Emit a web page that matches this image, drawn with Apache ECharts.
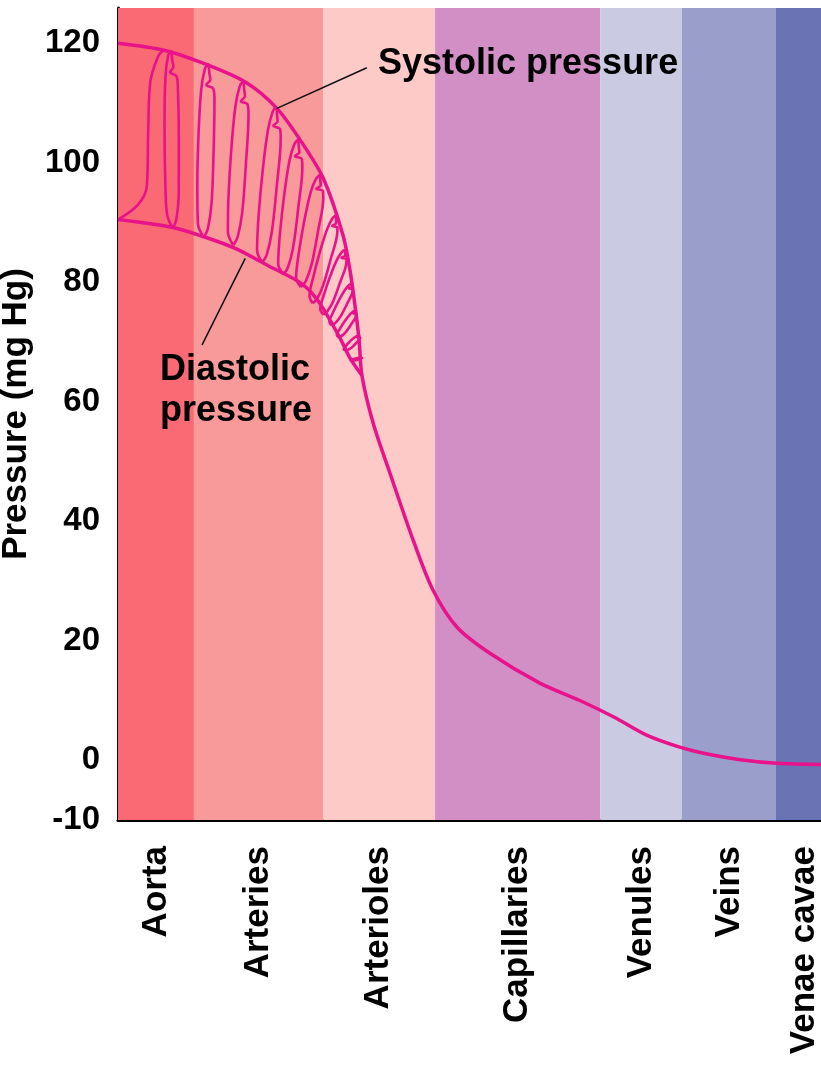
<!DOCTYPE html>
<html>
<head>
<meta charset="utf-8">
<script src="https://cdn.jsdelivr.net/npm/echarts@6/dist/echarts.min.js"></script>
<style>
  html, body { margin: 0; padding: 0; background: #fff; }
  #chart { width: 821px; height: 1067px; }
</style>
</head>
<body>
<div id="chart"></div>
<script>
// segments of the circulation (x = relative distance along the vessel tree, 0..100)
const bandNames = ['Aorta', 'Arteries', 'Arterioles', 'Capillaries', 'Venules', 'Veins', 'Venae cavae'];
const bandEdges = [0, 10.8, 29.2, 45.1, 68.6, 80.2, 93.6, 100];
const bandColors = ['#f96a74', '#f99a9a', '#fdcac7', '#d28fc5', '#cacbe3', '#9a9ecb', '#6a73b3'];
const labelPos = [5.4, 20, 37.1, 56.8, 74.4, 86.9, 97.7];
const yTicks = [-10, 0, 20, 40, 60, 80, 100, 120];

// pressure curves (mm Hg)
const systolic = [[0, 120], [6.7, 118.8], [12.0, 116.7], [18.1, 113.5], [22.6, 109.1], [26.2, 103.3],
    [29.2, 97.4], [32.0, 87.9], [33.0, 82.0], [33.7, 76.2], [34.3, 70.3], [34.7, 64.4]];
const diastolic = [[0, 90.5], [7.7, 89.2], [12.0, 87.7], [16.6, 85.7], [21.3, 82.8], [26.2, 79.7],
    [28.7, 76.5], [31.6, 70.6], [33.0, 67.3], [34.7, 64.4]];
const meanTail = [[34.7, 64.4], [36.3, 56.4], [38.7, 48.0], [42.0, 36.8], [44.8, 28.5], [48.2, 22.3],
    [52.9, 17.9], [60.0, 12.9], [65.7, 10.0], [70.6, 7.2], [75.2, 4.2], [79.9, 2.2],
    [84.0, 1.0], [88.5, 0.1], [93.7, -0.5], [100, -0.7]];
const firstRise = [[0, 90.5], [2.85, 93.0], [4.1, 96.1], [4.3, 105.3], [4.6, 113.6], [5.7, 117.8], [6.4, 118.8]];

// individual pulse waves: bottom point, top point, half width
const troughU = [7.8, 12.2, 16.4, 20.5, 23.5, 26.0, 27.7, 29.2, 30.4, 31.4, 32.4, 33.3];
const troughV = [89.0, 87.5, 86.2, 83.3, 81.3, 79.2, 76.5, 74.6, 72.8, 70.8, 68.6, 66.9];
const peakU = [7.5, 12.8, 17.8, 22.5, 25.6, 28.7, 31.0, 32.3, 33.3, 33.85, 34.3, 34.6];
const peakV = [118.7, 116.5, 113.6, 109.3, 103.8, 97.9, 91.2, 85.4, 79.8, 75.3, 71.1, 67.4];
const halfW = [1.0, 1.1, 1.1, 1.1, 1.1, 1.1, 0.9, 0.85, 0.7, 0.6, 0.55, 0.4];
// loop outline: [fraction bottom->top, sideways offset], with the dicrotic notch on the way down
const pulseShape = [[0, 0], [0.08, -0.8], [0.3, -1.0], [0.6, -1.0], [0.85, -0.8], [0.97, -0.4], [1, 0],
    [0.95, 0.2], [0.91, 0.35], [0.88, -0.15], [0.86, 0.75], [0.8, 0.95], [0.5, 1.0], [0.2, 0.9], [0.05, 0.5], [0, 0]];

const pink = '#e8128a';
const font = "'Liberation Sans', Arial, sans-serif";

let chart = echarts.init(document.getElementById('chart'));

let bandAreas = [];
for (let i = 0; i < bandNames.length; i++) {
    bandAreas.push([
        { xAxis: bandEdges[i], itemStyle: { color: bandColors[i] } },
        { xAxis: bandEdges[i + 1] }
    ]);
}

let pulseSeries = troughU.map((tu, i) => ({
    type: 'line',
    data: pulseShape.map(([f, o]) => [tu + (peakU[i] - tu) * f + o * halfW[i], troughV[i] + (peakV[i] - troughV[i]) * f]),
    smooth: 0.35,
    showSymbol: false,
    lineStyle: { color: pink, width: 2.6 },
    silent: true,
    z: 3
}));

let option = {
    animation: false,
    grid: { left: 118, right: 0, top: 8, bottom: 247, outerBoundsMode: 'none' },
    xAxis: {
        type: 'value',
        min: 0,
        max: 100,
        splitLine: { show: false },
        axisTick: { show: false },
        axisLine: { show: true, onZero: false, lineStyle: { color: '#000', width: 3 } },
        axisLabel: {
            customValues: labelPos,
            rotate: 90,
            margin: 26,
            color: '#000',
            fontSize: 35,
            fontWeight: 'bold',
            fontFamily: font,
            formatter: v => bandNames[labelPos.indexOf(v)]
        }
    },
    yAxis: {
        type: 'value',
        min: -10,
        max: 125.9,
        name: 'Pressure (mg Hg)',
        nameLocation: 'middle',
        nameGap: 66,
        nameTextStyle: { color: '#000', fontSize: 35, fontWeight: 'bold', fontFamily: font },
        splitLine: { show: false },
        axisTick: { show: false },
        axisLine: { show: true, onZero: false, lineStyle: { color: '#000', width: 3 } },
        axisLabel: {
            customValues: yTicks,
            margin: 18,
            color: '#000',
            fontSize: 33,
            fontWeight: 'bold',
            fontFamily: font
        }
    },
    series: [
        {
            type: 'line',
            data: [],
            silent: true,
            z: 1,
            markArea: { silent: true, data: bandAreas }
        },
        {
            type: 'line',
            data: systolic.concat(meanTail.slice(1)),
            smooth: 0.3,
            showSymbol: false,
            lineStyle: { color: pink, width: 3.5 },
            silent: true,
            z: 4,
            markLine: {
                silent: true,
                symbol: 'none',
                label: { show: false },
                lineStyle: { color: '#111', width: 1.6, type: 'solid' },
                data: [
                    [{ coord: [22.6, 109.1] }, { coord: [35.4, 115.9] }],
                    [{ coord: [18.1, 84.0] }, { coord: [11.95, 69.5] }]
                ]
            }
        },
        {
            type: 'line',
            data: diastolic,
            smooth: 0.3,
            showSymbol: false,
            lineStyle: { color: pink, width: 3.5 },
            silent: true,
            z: 4
        },
        {
            type: 'line',
            data: firstRise,
            smooth: 0.35,
            showSymbol: false,
            lineStyle: { color: pink, width: 2.6 },
            silent: true,
            z: 3
        }
    ].concat(pulseSeries),
    graphic: [
        {
            type: 'text', left: 378, top: 46, z: 10,
            style: { text: 'Systolic pressure', fill: '#000', font: 'bold 36px ' + font }
        },
        {
            type: 'text', left: 160, top: 350, z: 10,
            style: { text: 'Diastolic\npressure', fill: '#000', font: 'bold 36px ' + font, lineHeight: 41 }
        }
    ]
};

chart.setOption(option);
</script>
</body>
</html>
